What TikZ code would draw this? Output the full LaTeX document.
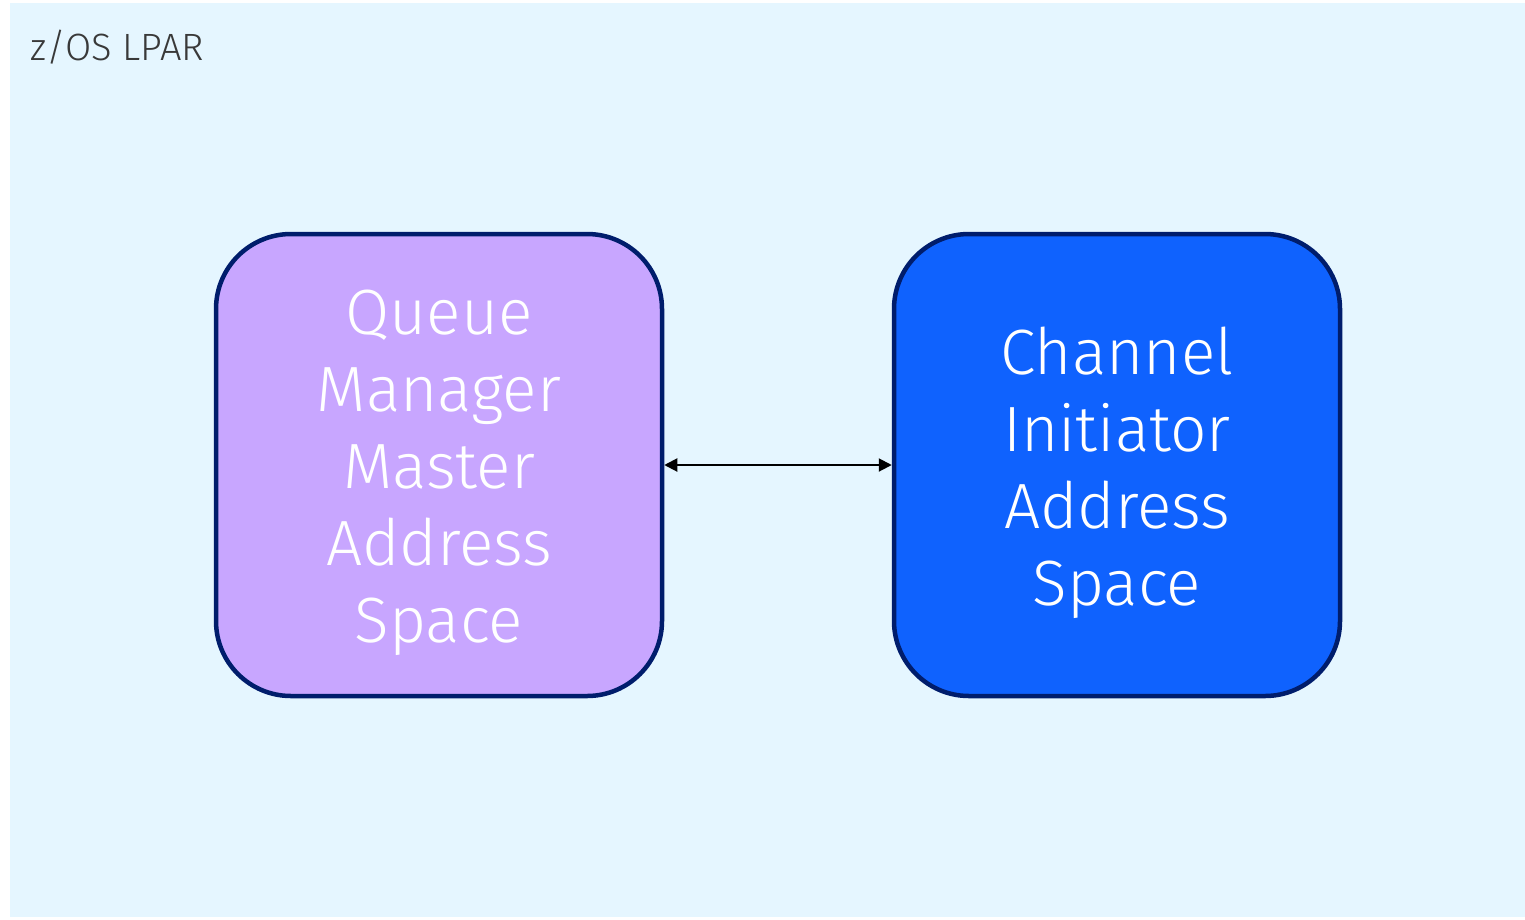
\documentclass[tikz,border=0pt]{standalone}
\usepackage{fontspec}
\setmainfont{Fira Sans Light}
\usetikzlibrary{arrows.meta}
\definecolor{lparbg}{HTML}{E5F6FF}
\definecolor{boxedge}{HTML}{001D6C}
\definecolor{qmfill}{HTML}{C8A6FF}
\definecolor{chfill}{HTML}{0F62FE}
\definecolor{labelgray}{HTML}{393939}
\tikzset{
  asbox/.style={draw=boxedge, line width=4.5pt, rounded corners=75pt,
    minimum width=446pt, minimum height=462pt, inner sep=0pt},
  astext/.style={text=white, align=center, inner sep=0pt,
    font=\fontsize{64}{77}\selectfont},
  link/.style={line width=2pt, {Triangle[length=13pt,width=13pt]}-{Triangle[length=13pt,width=13pt]}}
}
\begin{document}
\begin{tikzpicture}[x=1pt,y=-1pt]
  \useasboundingbox (0,0) rectangle (1525,919);
  \fill[white] (0,0) rectangle (1525,919);
  \fill[lparbg] (10,3) rectangle (1525,917);
  \node[anchor=west, text=labelgray, font=\fontsize{38}{44}\selectfont, inner sep=0pt] (lpar) at (30,47) {z/OS LPAR};
  \node[asbox, fill=qmfill] (qm) at (439,465) {};
  \node[asbox, fill=chfill] (ch) at (1117,465) {};
  \node[astext] (qmtext) at (439,473) {Queue\\Manager\\Master\\Address\\Space};
  \node[astext] (chtext) at (1117,473) {Channel\\Initiator\\Address\\Space};
  \draw[link] (qm.east) -- (ch.west);
\end{tikzpicture}
\end{document}
